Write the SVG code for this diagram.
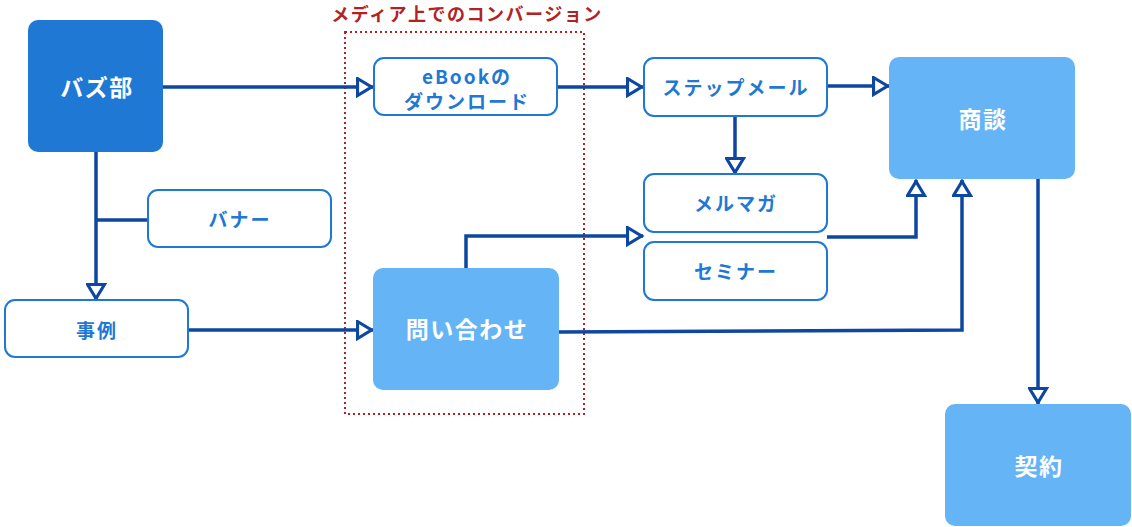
<svg xmlns="http://www.w3.org/2000/svg" width="1132" height="527" viewBox="0 0 1132 527">
<style>
.dark{fill:#1e78d4;}
.light{fill:#64b4f6;}
.out{fill:#fff;stroke:#1e78d4;stroke-width:2;}
.wt{fill:#fff;font-family:"Noto Sans CJK JP","Noto Sans",sans-serif;font-weight:bold;font-size:23px;text-anchor:middle;dominant-baseline:central;letter-spacing:1.5px;}
.bt{fill:#1e78d4;font-family:"Noto Sans CJK JP","Noto Sans",sans-serif;font-weight:bold;font-size:19px;text-anchor:middle;dominant-baseline:central;letter-spacing:2px;}
.c{fill:none;stroke:#0d47a1;stroke-width:3.5;}
.ca{fill:none;stroke:#0d47a1;stroke-width:3.5;marker-end:url(#ah);}
</style>
<defs>
<marker id="ah" viewBox="0 0 19 21" markerWidth="19" markerHeight="21" refX="17.5" refY="10.5" orient="auto" markerUnits="userSpaceOnUse">
<path d="M2,2 L16,10.5 L2,19 Z" fill="#fff" stroke="#0d47a1" stroke-width="3.2"/>
</marker>
</defs>
<rect width="1132" height="527" fill="#fff"/>
<g id="group-media">
<rect x="345" y="32" width="239" height="382" fill="none" stroke="#b22222" stroke-width="2" stroke-dasharray="2,3"/>
<text x="467" y="13" fill="#b22222" font-family="'Noto Sans CJK JP','Noto Sans',sans-serif" font-weight="bold" font-size="18" text-anchor="middle" dominant-baseline="central" letter-spacing="1.5">メディア上でのコンバージョン</text>
</g>
<g id="connectors">
<path class="ca" d="M163,87 L373,87"/>
<path class="ca" d="M557,87 L643,87"/>
<path class="ca" d="M827,86 L889,86"/>
<path class="ca" d="M735,116 L735,174"/>
<path class="c" d="M96,220 L148,220"/>
<path class="ca" d="M96,152 L96,300"/>
<path class="ca" d="M188,330 L373,330"/>
<path class="ca" d="M466,268 L466,236 L643,236"/>
<path class="ca" d="M827,237 L916,237 L916,180"/>
<path class="ca" d="M559,332 L962,330 L962,180"/>
<path class="ca" d="M1038,179 L1038,404"/>
</g>
<g id="node-buzz"><rect class="dark" x="28" y="20" width="135" height="132" rx="10"/><text class="wt" x="97" y="86">バズ部</text></g>
<g id="node-ebook"><rect class="out" x="374" y="58" width="183" height="57" rx="10"/><text class="bt" x="467" y="75" font-size="18">eBookの</text><text class="bt" x="467" y="100" font-size="18">ダウンロード</text></g>
<g id="node-stepmail"><rect class="out" x="644" y="58" width="183" height="58" rx="10"/><text class="bt" x="736" y="86">ステップメール</text></g>
<g id="node-shodan"><rect class="light" x="889" y="57" width="186" height="122" rx="10"/><text class="wt" x="983" y="118">商談</text></g>
<g id="node-banner"><rect class="out" x="148" y="190" width="183" height="57" rx="10"/><text class="bt" x="240" y="218">バナー</text></g>
<g id="node-merumaga"><rect class="out" x="644" y="174" width="183" height="58" rx="10"/><text class="bt" x="736" y="202">メルマガ</text></g>
<g id="node-seminar"><rect class="out" x="644" y="242" width="183" height="58" rx="10"/><text class="bt" x="736" y="270">セミナー</text></g>
<g id="node-jirei"><rect class="out" x="5" y="300" width="183" height="57" rx="10"/><text class="bt" x="97" y="329">事例</text></g>
<g id="node-toiawase"><rect class="light" x="373" y="268" width="186" height="122" rx="10"/><text class="wt" x="467" y="328">問い合わせ</text></g>
<g id="node-keiyaku"><rect class="light" x="945" y="404" width="186" height="122" rx="10"/><text class="wt" x="1039" y="465">契約</text></g>
</svg>
